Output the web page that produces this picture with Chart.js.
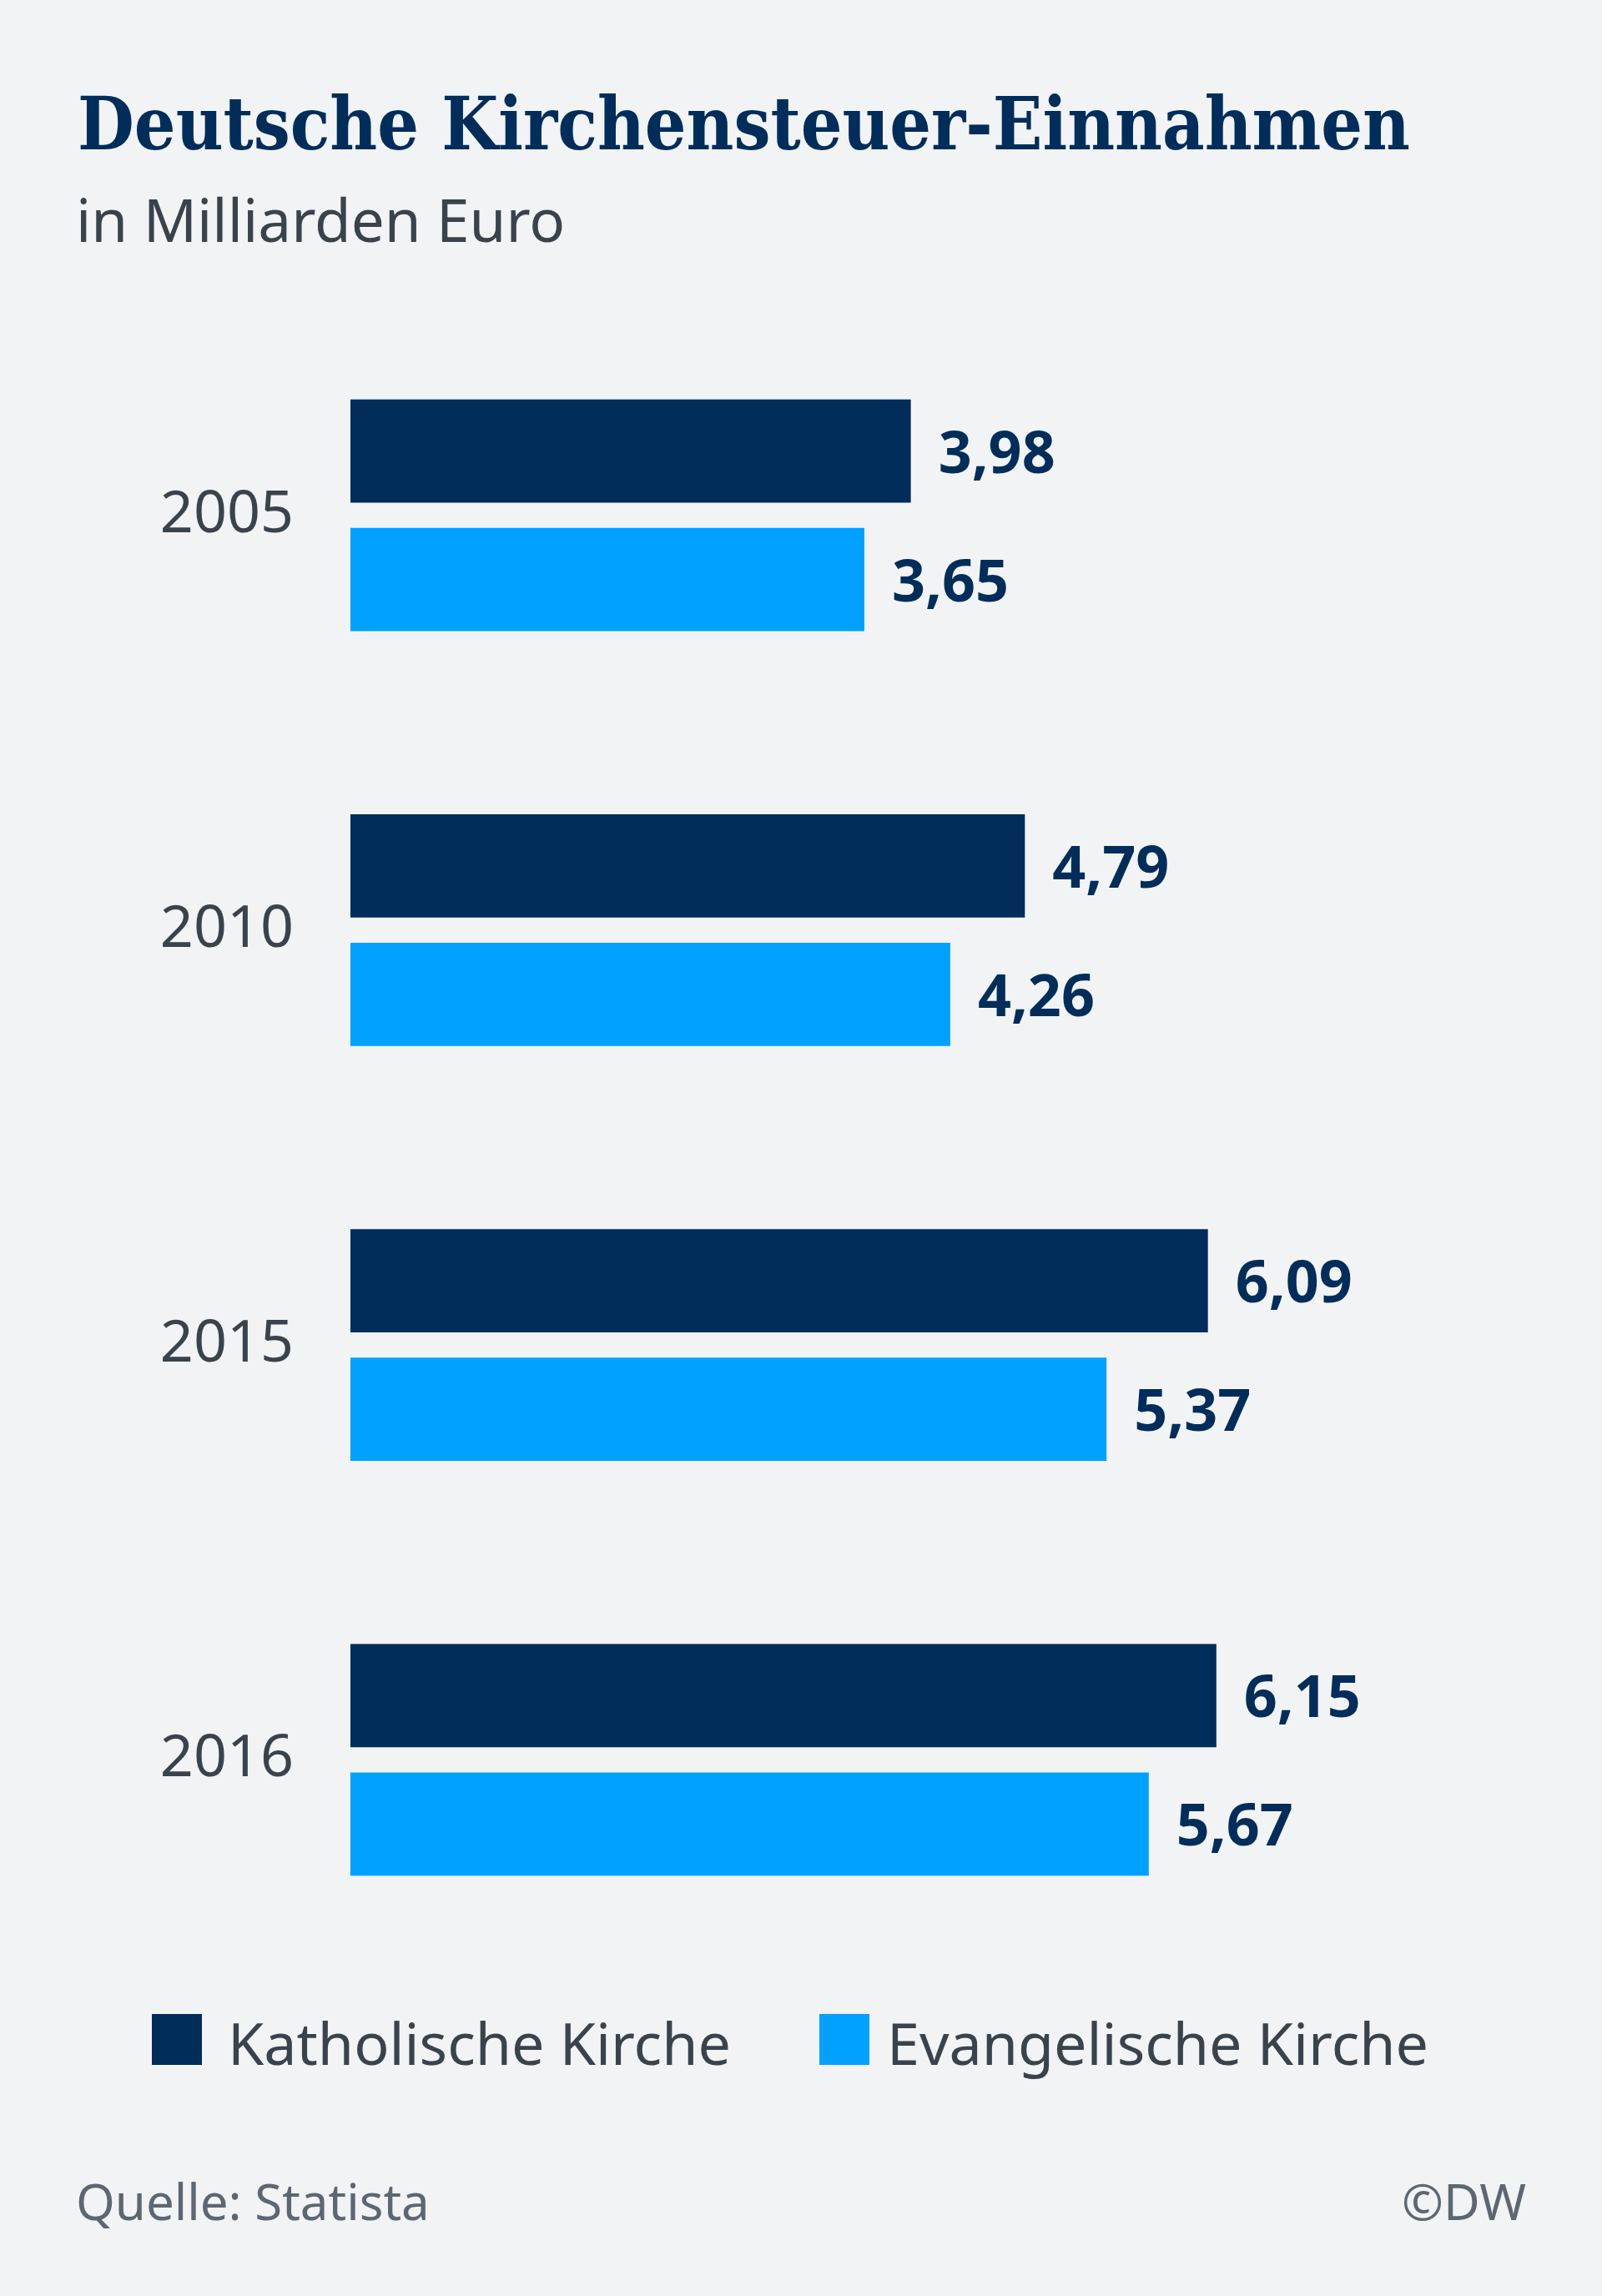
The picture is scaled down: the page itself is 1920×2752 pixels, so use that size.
<!DOCTYPE html>
<html>
<head>
<meta charset="utf-8">
<script src="https://cdn.jsdelivr.net/npm/chart.js@4.4.1/dist/chart.umd.min.js"></script>
<style>
  html, body { margin: 0; padding: 0; background: #f2f3f5; }
  #wrap { position: relative; width: 1920px; height: 2752px; overflow: hidden; background: #f2f3f5; }
  #c { position: absolute; left: 0; top: 0; }
  .t { position: absolute; white-space: nowrap; line-height: 1; margin: 0; }
  .sw { position: absolute; }
</style>
</head>
<body>
<div id="wrap">
  <canvas id="c" width="1920" height="2752"></canvas>
  <div id="title" class="t">Deutsche Kirchensteuer-Einnahmen</div>
  <div id="subtitle" class="t">in Milliarden Euro</div>
  <div id="sw0" class="sw"></div>
  <div id="lg0" class="t"></div>
  <div id="sw1" class="sw"></div>
  <div id="lg1" class="t"></div>
  <div id="source" class="t">Quelle: Statista</div>
  <div id="credit" class="t">©DW</div>
</div>
<script>
// ---- data ----
const years = ['2005', '2010', '2015', '2016'];
const katholisch = [3.98, 4.79, 6.09, 6.15];
const evangelisch = [3.65, 4.26, 5.37, 5.67];
const seriesNames = ['Katholische Kirche', 'Evangelische Kirche'];

const COL_DARK = '#002d5a';
const COL_BLUE = '#00a1ff';
const COL_TEXT = '#3a434c';

function fmt(v) { return v.toFixed(2).replace('.', ','); }

// place a text element so that its baseline sits at y
function place(id, text, x, baseline, size, family, weight, color, align) {
  const el = document.getElementById(id);
  if (text !== null) el.textContent = text;
  el.style.fontFamily = family;
  el.style.fontSize = size + 'px';
  el.style.fontWeight = weight;
  el.style.color = color;
  el.style.left = '0px';
  el.style.top = '0px';
  const probe = document.createElement('span');
  probe.style.cssText = 'display:inline-block;width:0;height:0;vertical-align:baseline;';
  el.appendChild(probe);
  const off = probe.offsetTop;
  el.removeChild(probe);
  el.style.top = (baseline - off) + 'px';
  const w = el.getBoundingClientRect().width;
  el.style.left = (align === 'right' ? x - w : x) + 'px';
  return el;
}

// title (fit to measured width)
const title = place('title', null, 93, 179, 88, '"DejaVu Serif"', 'bold', COL_DARK, 'left');
const tw = title.getBoundingClientRect().width;
title.style.transformOrigin = 'left top';
title.style.transform = 'scaleX(' + (1597 / tw) + ')';

place('subtitle', null, 91, 290, 71, '"Noto Sans"', 'normal', COL_TEXT, 'left');

// legend
const sw = [document.getElementById('sw0'), document.getElementById('sw1')];
const swX = [182, 982];
const txtX = [273, 1063];
const cols = [COL_DARK, COL_BLUE];
for (let i = 0; i < 2; i++) {
  Object.assign(sw[i].style, { left: swX[i] + 'px', top: '2414px', width: '60px', height: '61px', background: cols[i] });
  place('lg' + i, seriesNames[i], txtX[i], 2475, 70, '"Noto Sans"', 'normal', COL_TEXT, 'left');
}

// footer
place('source', null, 91, 2661, 60, '"Noto Sans"', 'normal', '#5d6771', 'left');
place('credit', null, 1829, 2661, 60, '"Noto Sans"', 'normal', '#5d6771', 'right');

// value labels plugin
const valueLabels = {
  id: 'valueLabels',
  afterDatasetsDraw(chart) {
    const ctx = chart.ctx;
    ctx.save();
    ctx.font = 'bold 70px "Noto Sans"';
    ctx.fillStyle = COL_DARK;
    ctx.textBaseline = 'middle';
    ctx.textAlign = 'left';
    chart.data.datasets.forEach((ds, i) => {
      chart.getDatasetMeta(i).data.forEach((bar, j) => {
        ctx.fillText(fmt(ds.data[j]), bar.x + 33, bar.y + 6);
      });
    });
    ctx.restore();
  }
};

new Chart(document.getElementById('c'), {
  type: 'bar',
  data: {
    labels: years,
    datasets: [
      { label: seriesNames[0], data: katholisch, backgroundColor: COL_DARK, borderWidth: 0,
        categoryPercentage: 0.619, barPercentage: 0.805 },
      { label: seriesNames[1], data: evangelisch, backgroundColor: COL_BLUE, borderWidth: 0,
        categoryPercentage: 0.619, barPercentage: 0.805 }
    ]
  },
  options: {
    indexAxis: 'y',
    responsive: false,
    animation: false,
    devicePixelRatio: 1,
    layout: { padding: { left: 0, right: 150, top: 369, bottom: 394 } },
    plugins: { legend: { display: false }, title: { display: false }, tooltip: { enabled: false } },
    scales: {
      x: { display: false, min: 0, max: 8 },
      y: {
        grid: { display: false, drawTicks: false },
        border: { display: false },
        ticks: { font: { family: 'Noto Sans', size: 70 }, color: COL_TEXT, padding: 68 },
        afterFit(scale) { scale.width = 420; }
      }
    }
  },
  plugins: [valueLabels]
});
</script>
</body>
</html>
